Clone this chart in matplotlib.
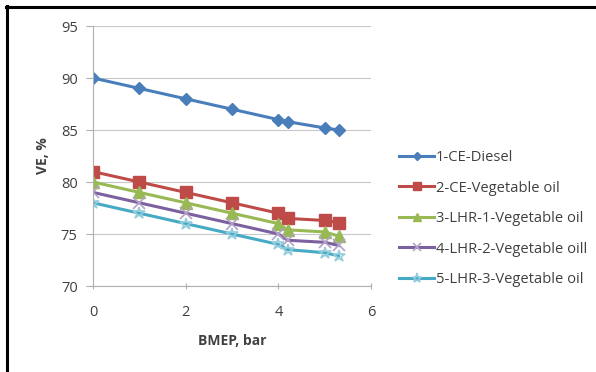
import numpy as np
import matplotlib.pyplot as plt
from matplotlib.lines import Line2D

# =============================
# DATA
# =============================
bmep = [0, 1, 2, 3, 4, 4.2, 5, 5.3]

ve_ce_diesel = [90, 89, 88, 87, 86, 85.8, 85.2, 85.0]
ve_ce_veg = [81, 80, 79, 78, 77, 76.5, 76.3, 76.1]
ve_lhr1_veg = [80, 79, 78, 77, 76, 75.4, 75.2, 74.8]
ve_lhr2_veg = [79, 78, 77, 76, 75, 74.4, 74.2, 73.9]
ve_lhr3_veg = [78, 77, 76, 75, 74, 73.5, 73.2, 72.9]

labels = ['1-CE-Diesel', '2-CE-Vegetable oil', '3-LHR-1-Vegetable oil',
          '4-LHR-2-Vegetable oill', '5-LHR-3-Vegetable oil']

x_ticks = [0, 2, 4, 6]
y_ticks = [70, 75, 80, 85, 90, 95]

# =============================
# PLOT
# =============================
plt.rcParams['font.family'] = ['Open Sans', 'DejaVu Sans']

fig = plt.figure(figsize=(5.96, 3.72), dpi=100)
ax = fig.add_axes([93 / 596, 1 - 286 / 372, (371 - 93) / 596, (286 - 26) / 372])

series = [ve_ce_diesel, ve_ce_veg, ve_lhr1_veg, ve_lhr2_veg, ve_lhr3_veg]
colors = ['#4a7ebb', '#be4b48', '#98b954', '#7d60a0', '#46aac5']
mk_colors = ['#4a7ebb', '#be4b48', '#98b954', '#b3a2c7', '#93cddd']
markers = ['D', 's', '^', 'x', '*']
sizes = [6, 8, 8, 8, 9]

for vals, col, mcol, mk, ms, lab in zip(series, colors, mk_colors, markers, sizes, labels):
    ax.plot(bmep, vals, color=col, linewidth=2.2, marker=mk, markersize=ms,
            markeredgewidth=1 if mk not in ('x', '*') else 1.2,
            markeredgecolor=mcol, markerfacecolor=mcol if mk != '*' else 'none',
            label=lab)

ax.set_xlim(0, 6)
ax.set_ylim(70, 95)
ax.set_xticks(x_ticks)
ax.set_yticks(y_ticks)
ax.tick_params(labelsize=10.5, colors='#b0b0b0', labelcolor='#404040', length=5, width=0.8)
ax.xaxis.set_tick_params(direction='inout', pad=11)
ax.yaxis.set_tick_params(direction='out', pad=6)

ax.grid(True, axis='y', color='#c8c8c8', linewidth=0.8)
ax.set_axisbelow(True)
for side in ['top', 'right']:
    ax.spines[side].set_visible(False)
ax.spines['left'].set_color('#b0b0b0')
ax.spines['bottom'].set_color('#b0b0b0')

ax.set_xlabel('BMEP, bar', fontsize=10, fontweight='bold', color='#404040', labelpad=10)
ax.set_ylabel('VE, %', fontsize=10, fontweight='bold', color='#404040', labelpad=8)

leg = ax.legend(loc='upper left', bbox_to_anchor=(1.08, 0.545), frameon=False,
                fontsize=10.6, handlelength=2.4, labelspacing=1.05,
                handletextpad=0.1, borderaxespad=0, markerscale=0.75)
for txt in leg.get_texts():
    txt.set_color('#404040')

# partial black border (left and top) as in the original screenshot
fig.add_artist(Line2D([7 / 596, 7 / 596], [0, 1 - 6 / 372], color='black',
                      linewidth=2.2, transform=fig.transFigure))
fig.add_artist(Line2D([6 / 596, 1], [1 - 7 / 372, 1 - 7 / 372], color='black',
                      linewidth=2.2, transform=fig.transFigure))

fig.savefig('out.png', dpi=100)
